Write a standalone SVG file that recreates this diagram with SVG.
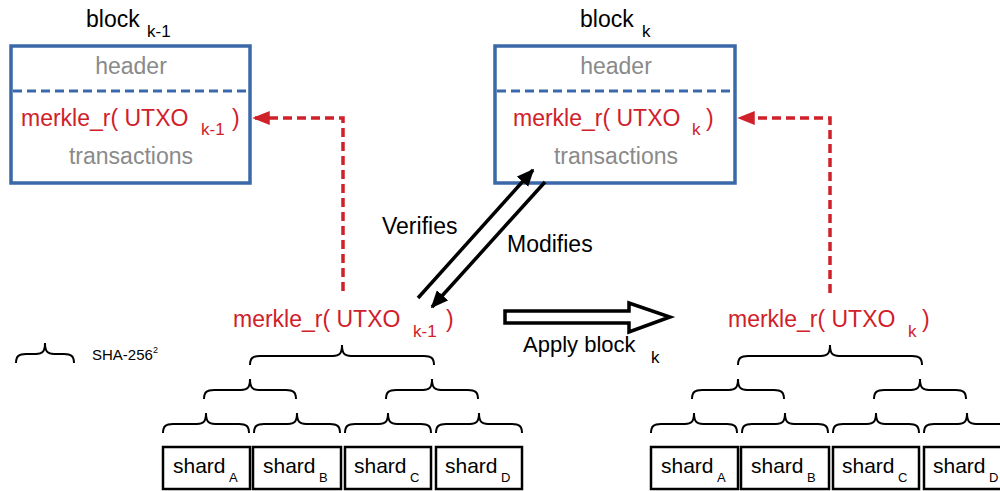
<svg xmlns="http://www.w3.org/2000/svg" width="1000" height="491" viewBox="0 0 1000 491">
<style>
text{font-family:"Liberation Sans",Arial,sans-serif;}
.t{font-size:23px;fill:#000;}
.g{font-size:23px;fill:#8a8a8a;}
.r{font-size:23px;fill:#d0202a;}
.rs{font-size:17px;fill:#d0202a;}
.s{font-size:17px;fill:#000;}
.box{fill:#fff;stroke:#3a68a8;stroke-width:3.5;}
.sep{stroke:#3a68a8;stroke-width:3;stroke-dasharray:9 5;fill:none;}
.rd{stroke:#d0202a;stroke-width:3.5;stroke-dasharray:9 5;fill:none;}
.br{fill:none;stroke:#000;stroke-width:2;}
.sh{fill:#fff;stroke:#000;stroke-width:2.5;}
.st{font-size:21px;fill:#000;}
.ss{font-size:13px;fill:#000;}
.bl{stroke:#000;stroke-width:3.5;fill:none;}
</style>
<defs>
<marker id="ra" markerWidth="5" markerHeight="4" refX="4.5" refY="2" orient="auto" markerUnits="strokeWidth"><path d="M0,0 L5,2 L0,4 Z" fill="#d0202a"/></marker>
<marker id="ba" markerWidth="5" markerHeight="4.4" refX="4.5" refY="2.2" orient="auto" markerUnits="strokeWidth"><path d="M0,0 L5,2.2 L0,4.4 Z" fill="#000"/></marker>
<path id="b43" class="br" d="M-43,20 C-43,13 -40,11 -33,11 L-9,11 C-3,11 0,9 0,0 C0,9 3,11 9,11 L33,11 C40,11 43,13 43,20"/>
<path id="b46" class="br" d="M-46,20 C-46,13 -43,11 -36,11 L-9,11 C-3,11 0,9 0,0 C0,9 3,11 9,11 L36,11 C43,11 46,13 46,20"/>
<path id="b92" class="br" d="M-92,20 C-92,13 -89,11 -82,11 L-9,11 C-3,11 0,9 0,0 C0,9 3,11 9,11 L82,11 C89,11 92,13 92,20"/>
<path id="b29" class="br" d="M-29,20 C-29,13 -26,11 -19,11 L-9,11 C-3,11 0,9 0,0 C0,9 3,11 9,11 L19,11 C26,11 29,13 29,20"/>
</defs>
<rect width="1000" height="491" fill="#fff"/>

<g id="block-k-1">
<text class="t" x="86" y="27">block</text><text class="s" x="147" y="37">k-1</text>
<rect class="box" x="11" y="46" width="239" height="137"/>
<line class="sep" x1="13" y1="91" x2="248" y2="91"/>
<text class="g" x="131" y="74" text-anchor="middle">header</text>
<text class="r" x="21" y="126">merkle_r( UTXO</text><text class="rs" x="201" y="135">k-1</text><text class="r" x="232" y="126">)</text>
<text class="g" x="131" y="164" text-anchor="middle">transactions</text>
</g>

<g id="block-k">
<text class="t" x="580" y="27">block</text><text class="s" x="642" y="37">k</text>
<rect class="box" x="495" y="46" width="240" height="137"/>
<line class="sep" x1="497" y1="91" x2="733" y2="91"/>
<text class="g" x="616" y="74" text-anchor="middle">header</text>
<text class="r" x="513" y="126">merkle_r( UTXO</text><text class="rs" x="692" y="135">k</text><text class="r" x="706" y="126">)</text>
<text class="g" x="616" y="164" text-anchor="middle">transactions</text>
</g>

<g id="legend">
<use href="#b29" x="45" y="343"/>
<text x="92" y="360" style="font-size:15px;fill:#000">SHA-256</text><text x="153" y="353" style="font-size:9px;fill:#000">2</text>
</g>

<g id="tree-k-1">
<text class="r" x="233" y="327">merkle_r( UTXO</text><text class="rs" x="413" y="337">k-1</text><text class="r" x="446" y="327">)</text>
<use href="#b92" x="342" y="345"/>
<use href="#b46" x="250" y="379"/>
<use href="#b46" x="432" y="379"/>
<use href="#b43" x="206" y="413"/>
<use href="#b43" x="297" y="413"/>
<use href="#b43" x="388" y="413"/>
<use href="#b43" x="479" y="413"/>
<g id="shardA-1"><rect class="sh" x="163" y="447" width="87" height="42"/><text class="st" x="173" y="473">shard</text><text class="ss" x="229" y="482">A</text></g>
<g id="shardB-1"><rect class="sh" x="253" y="447" width="88" height="42"/><text class="st" x="263" y="473">shard</text><text class="ss" x="319" y="482">B</text></g>
<g id="shardC-1"><rect class="sh" x="345" y="447" width="86" height="42"/><text class="st" x="354" y="473">shard</text><text class="ss" x="410" y="482">C</text></g>
<g id="shardD-1"><rect class="sh" x="436" y="447" width="86" height="42"/><text class="st" x="445" y="473">shard</text><text class="ss" x="501" y="482">D</text></g>
</g>

<g id="tree-k">
<text class="r" x="728" y="327">merkle_r( UTXO</text><text class="rs" x="908" y="337">k</text><text class="r" x="922" y="327">)</text>
<use href="#b92" x="830" y="345"/>
<use href="#b46" x="738" y="379"/>
<use href="#b46" x="920" y="379"/>
<use href="#b43" x="694" y="413"/>
<use href="#b43" x="785" y="413"/>
<use href="#b43" x="876" y="413"/>
<use href="#b43" x="967" y="413"/>
<g id="shardA"><rect class="sh" x="651" y="447" width="87" height="42"/><text class="st" x="661" y="473">shard</text><text class="ss" x="717" y="482">A</text></g>
<g id="shardB"><rect class="sh" x="741" y="447" width="88" height="42"/><text class="st" x="751" y="473">shard</text><text class="ss" x="807" y="482">B</text></g>
<g id="shardC"><rect class="sh" x="833" y="447" width="86" height="42"/><text class="st" x="842" y="473">shard</text><text class="ss" x="898" y="482">C</text></g>
<g id="shardD"><rect class="sh" x="924" y="447" width="86" height="42"/><text class="st" x="933" y="473">shard</text><text class="ss" x="989" y="482">D</text></g>
</g>

<g id="connectors">
<polyline class="rd" points="343,291 343,118 254,118" marker-end="url(#ra)"/>
<polyline class="rd" points="830,293 830,118 739,118" marker-end="url(#ra)"/>
<line class="bl" x1="418" y1="298" x2="533" y2="170" marker-end="url(#ba)"/>
<line class="bl" x1="545" y1="182" x2="432" y2="307" marker-end="url(#ba)"/>
<text class="t" x="382" y="234">Verifies</text>
<text class="t" x="507" y="252">Modifies</text>
<polygon points="505,311 629,311 629,303 670,317 629,332 629,323 505,323" fill="#fff" stroke="#000" stroke-width="3.5" stroke-linejoin="miter"/>
<text x="523" y="352" style="font-size:22px;fill:#000">Apply block</text><text class="s" x="651" y="363">k</text>
</g>
</svg>
